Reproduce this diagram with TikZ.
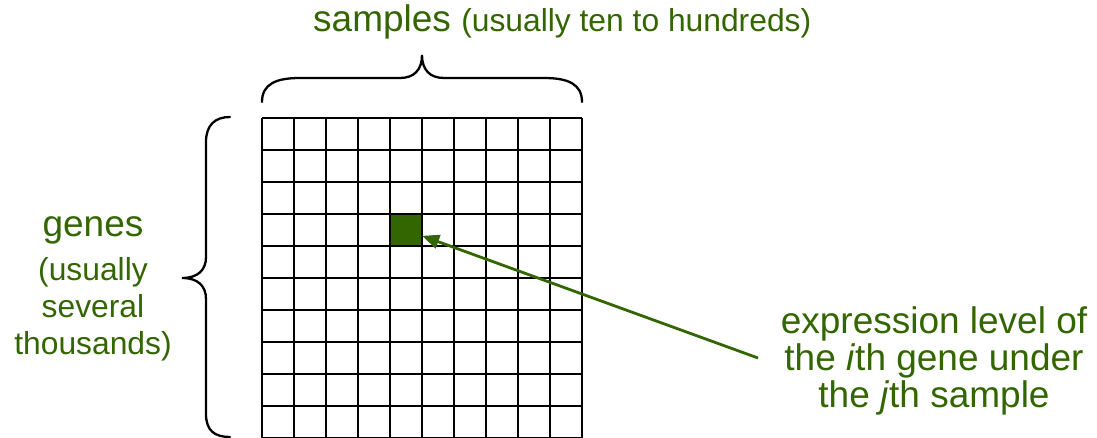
\documentclass[tikz,border=0pt]{standalone}
\usepackage{fontspec}
\setmainfont{Liberation Sans}
\usetikzlibrary{arrows.meta}
\definecolor{dkgreen}{RGB}{51,102,0}
\newcommand{\bigtxt}{\fontsize{37}{40}\selectfont}
\newcommand{\smalltxt}{\fontsize{31.8}{36}\selectfont}
\begin{document}
\begin{tikzpicture}[x=1pt,y=-1pt,
  lbl/.style={text=dkgreen, inner sep=0pt, anchor=base},
  gridline/.style={line width=2.9pt, black},
  bracestyle/.style={line width=2.3pt, black, line cap=round},
  pointer/.style={draw=dkgreen, line width=2.8pt, -{Triangle[length=17pt,width=14pt]}}]
\useasboundingbox (0,0) rectangle (1097,438);
% highlighted cell
\node[fill=dkgreen, minimum size=32pt, inner sep=0pt] (cell) at (406,230) {};
% grid
\foreach \i in {0,...,10} {
  \draw[gridline] (262+32*\i,118) -- (262+32*\i,438);
  \draw[gridline] (262,118+32*\i) -- (582,118+32*\i);
}
% top brace
\draw[bracestyle] (262,102) .. controls (262,84) and (276,78) .. (300,78) -- (400,78)
  .. controls (414,78) and (422,70) .. (422,55)
  .. controls (422,70) and (430,78) .. (444,78) -- (544,78)
  .. controls (568,78) and (582,84) .. (582,102);
% left brace
\draw[bracestyle] (230,117) .. controls (215,117) and (206,125) .. (206,142) -- (206,257)
  .. controls (206,270) and (198,278) .. (182,278)
  .. controls (198,278) and (206,286) .. (206,299) -- (206,414)
  .. controls (206,431) and (215,437) .. (230,437);
% top label
\node[lbl, anchor=base west] (samples) at (313,32) {\bigtxt samples {\smalltxt (usually ten to hundreds)}};
% left labels
\node[lbl] (g1) at (93,237) {\bigtxt genes};
\node[lbl] (g2) at (93,280) {\smalltxt (usually};
\node[lbl] (g3) at (93,317) {\smalltxt several};
\node[lbl] (g4) at (93,354) {\smalltxt thousands)};
% right labels
\node[lbl] (e1) at (934,333) {\bigtxt expression level of};
\node[lbl] (e2) at (934,370) {\bigtxt the \textit{i}th gene under};
\node[lbl] (e3) at (934,407) {\bigtxt the \textit{j}th sample};
% arrow
\coordinate (astart) at (758,358);
\draw[pointer] (astart) -- (cell);
\end{tikzpicture}
\end{document}
